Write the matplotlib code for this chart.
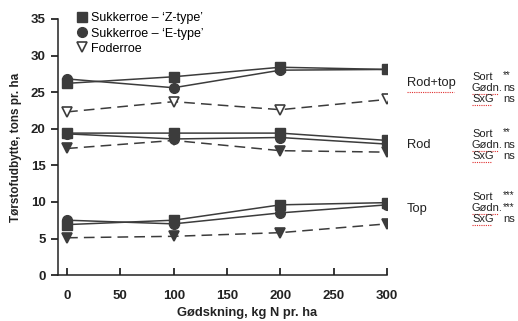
import matplotlib.pyplot as plt
from matplotlib.lines import Line2D

plt.rcParams['font.family'] = ['Liberation Sans', 'DejaVu Sans']

nitrogen = [0, 100, 200, 300]

# dry matter yield, tons per ha
z_total = [26.2, 27.1, 28.4, 28.1]
e_total = [26.8, 25.6, 28.0, 28.1]
f_total = [22.3, 23.7, 22.6, 24.0]

z_root = [19.4, 19.4, 19.4, 18.4]
e_root = [19.3, 18.6, 18.8, 17.9]
f_root = [17.3, 18.4, 17.0, 16.8]

z_top = [6.9, 7.5, 9.6, 9.9]
e_top = [7.5, 7.0, 8.5, 9.6]
f_top = [5.1, 5.3, 5.8, 7.0]

group_names = ['Rod+top', 'Rod', 'Top']
stat_labels = ['Sort', 'Gødn.', 'SxG']
stat_values = [['**', 'ns', 'ns'], ['**', 'ns', 'ns'], ['***', '***', 'ns']]

dark = '#3c3c3c'

fig = plt.figure(figsize=(5.18, 3.21), dpi=100)
ax = fig.add_axes([0.112, 0.143, 0.635, 0.798])

groups = [(z_total, e_total, f_total, 'white'),
          (z_root, e_root, f_root, dark),
          (z_top, e_top, f_top, dark)]
for z, e, f, tri_fill in groups:
    ax.plot(nitrogen, z, color=dark, lw=1.1, marker='s', ms=6.5,
            mfc=dark, mec=dark, zorder=3)
    ax.plot(nitrogen, e, color=dark, lw=1.1, marker='o', ms=7,
            mfc=dark, mec=dark, zorder=3)
    ax.plot(nitrogen, f, color=dark, lw=1.1, ls=(0, (7, 4)), marker='v',
            ms=7, mfc=tri_fill, mec=dark, mew=1.2, zorder=3)

ax.set_xlim(-8.5, 300)
ax.set_ylim(0, 35)
ax.set_xticks([0, 50, 100, 150, 200, 250, 300])
ax.set_yticks([0, 5, 10, 15, 20, 25, 30, 35])
ax.spines['top'].set_visible(False)
ax.spines['right'].set_visible(False)
for s in ['left', 'bottom']:
    ax.spines[s].set_linewidth(1.1)
    ax.spines[s].set_color('#222222')
ax.tick_params(axis='x', direction='in', length=5, width=1.1, pad=11)
ax.tick_params(axis='y', direction='out', length=5, width=1.1, pad=4)
for lab in ax.get_xticklabels() + ax.get_yticklabels():
    lab.set_fontweight('bold')
    lab.set_fontsize(9.5)
    lab.set_color('#222222')

ax.set_xlabel('Gødskning, kg N pr. ha', fontsize=9.3, fontweight='bold',
              color='#222222', labelpad=5)
ax.xaxis.set_label_coords(0.575, -0.125)
ax.set_ylabel('Tørstofudbytte, tons pr. ha', fontsize=8.5, fontweight='bold',
              color='#222222', labelpad=6)

handles = [Line2D([], [], ls='none', marker='s', ms=6.5, mfc=dark, mec=dark),
           Line2D([], [], ls='none', marker='o', ms=7, mfc=dark, mec=dark),
           Line2D([], [], ls='none', marker='v', ms=7, mfc='white', mec=dark,
                  mew=1.2)]
ax.legend(handles, ['Sukkerroe – ‘Z-type’', 'Sukkerroe – ‘E-type’', 'Foderroe'],
          loc='upper left', bbox_to_anchor=(0.04, 1.045), frameon=False,
          fontsize=9, handletextpad=0.2, labelspacing=0.25,
          handlelength=1.0, borderaxespad=0)

# group labels and significance notes (figure pixel coordinates)
W, H = 518, 321
group_y = [83, 145, 209]
stat_top = [77, 134, 197]
for name, gy, sy, vals in zip(group_names, group_y, stat_top, stat_values):
    fig.text(407 / W, 1 - gy / H, name, fontsize=9.3, va='center', ha='left',
             color='#222222')
    for i, (lab, val) in enumerate(zip(stat_labels, vals)):
        yy = sy + i * 11.2
        fig.text(472 / W, 1 - yy / H, lab, fontsize=8, va='center',
                 ha='left', color='#222222')
        star = val.startswith('*')
        fig.text(503 / W, 1 - (yy - (1.5 if star else 0)) / H,
                 val, fontsize=7 if star else 8,
                 va='center', ha='left', color='#222222')
        if lab != 'Sort':
            w = 26 if lab == 'Gødn.' else 20
            fig.add_artist(Line2D([472 / W, (472 + w) / W],
                                  [1 - (yy + 5.5) / H] * 2, color='#e03030',
                                  lw=0.8, ls=(0, (1, 1))))
fig.add_artist(Line2D([407 / W, 454 / W], [1 - 92 / H] * 2, color='#e03030',
                      lw=0.8, ls=(0, (1, 1))))

fig.savefig('out.png', dpi=100)
